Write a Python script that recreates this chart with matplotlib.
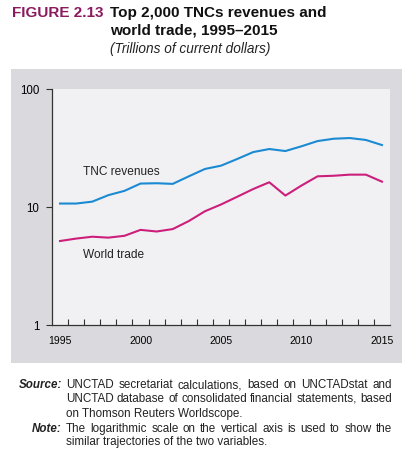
import numpy as np
import matplotlib.pyplot as plt
from matplotlib.patches import Rectangle
from matplotlib.ticker import FixedLocator, NullFormatter

plt.rcParams['font.family'] = ['Liberation Sans', 'DejaVu Sans']

years = list(range(1995, 2016))
tnc_revenues = [10.7, 10.7, 11.1, 12.6, 13.7, 15.8, 15.9, 15.7, 18.2, 21.0, 22.4,
                25.5, 29.2, 31.0, 29.8, 32.7, 36.2, 37.9, 38.4, 37.0, 33.5]
world_trade = [5.15, 5.4, 5.6, 5.5, 5.7, 6.4, 6.2, 6.5, 7.6, 9.2, 10.5,
               12.2, 14.2, 16.2, 12.5, 15.2, 18.2, 18.4, 18.8, 18.8, 16.4]
year_labels = [1995, 2000, 2005, 2010, 2015]

W, H = 411, 460
fig = plt.figure(figsize=(W / 100, H / 100), dpi=100)

def fx(px):
    return px / W

def fy(py):
    return 1 - py / H

# grey panel behind the chart
fig.patches.append(Rectangle((fx(11), fy(364)), fx(402) - fx(11), fy(70) - fy(364),
                             transform=fig.transFigure, facecolor='#d9d9de',
                             edgecolor='none', zorder=-5))

ax = fig.add_axes([fx(52), fy(326), fx(390) - fx(52), fy(90) - fy(326)])
ax.set_zorder(2)
ax.set_facecolor('#f1f1f4')
ax.plot(years, tnc_revenues, color='#1b8ad3', lw=1.5)
ax.plot(years, world_trade, color='#cc1f7b', lw=1.5)
ax.set_yscale('log')
ax.set_ylim(1, 100)
ax.set_xlim(1994.5, 2015.5)

ax.set_yticks([1, 10, 100])
ax.set_yticklabels(['1', '10', '100'])
ax.yaxis.set_minor_formatter(NullFormatter())
ax.yaxis.set_minor_locator(FixedLocator([]))
ax.tick_params(axis='y', which='major', length=4, width=0.8, direction='out',
               labelsize=8.3, pad=5, color='#333333')

ax.set_xticks(year_labels)
ax.set_xticklabels([str(y) for y in year_labels])
ax.xaxis.set_minor_locator(FixedLocator(np.arange(1995.5, 2015.5, 1.0)))
ax.tick_params(axis='x', which='major', length=0, labelsize=7.5, pad=7)
ax.tick_params(axis='x', which='minor', length=4, width=0.8, direction='in',
               color='#333333')

for s in ['top', 'right']:
    ax.spines[s].set_visible(False)
for s in ['left', 'bottom']:
    ax.spines[s].set_linewidth(0.9)
    ax.spines[s].set_color('#333333')

ax.text(1996.44, 20.3, 'TNC revenues', fontsize=8.6, color='#222222', va='center')
ax.text(1996.44, 3.97, 'World trade', fontsize=8.6, color='#222222', va='center')

# title
fig.text(fx(12), fy(13), 'FIGURE 2.13', fontsize=11, fontweight='bold',
         color='#8a1b5e', va='center')
fig.text(fx(110), fy(13), 'Top 2,000 TNCs revenues and', fontsize=11,
         fontweight='bold', color='#111111', va='center')
fig.text(fx(110), fy(31), 'world trade, 1995\u20132015', fontsize=11,
         fontweight='bold', color='#111111', va='center')
fig.text(fx(110), fy(49), '(Trillions of current dollars)', fontsize=9.8,
         style='italic', color='#222222', va='center')

# footer, justified lines
renderer = fig.canvas.get_renderer()
left_px, right_px = 66, 392
fsize = 8.4

def put_line(text, ypx, justify):
    base = fy(ypx + 3.5)
    words = text.split()
    if not justify:
        fig.text(fx(left_px), base, text, fontsize=fsize, color='#222222', va='baseline')
        return
    widths = []
    for w in words:
        t = fig.text(0, 0, w, fontsize=fsize)
        widths.append(t.get_window_extent(renderer).width)
        t.remove()
    gap = (right_px - left_px - sum(widths)) / (len(words) - 1)
    x = left_px
    for w, wd in zip(words, widths):
        fig.text(fx(x), base, w, fontsize=fsize, color='#222222', va='baseline')
        x += wd + gap

fig.text(fx(62), fy(385 + 3.5), 'Source:', fontsize=fsize, fontweight='bold',
         style='italic', color='#222222', va='baseline', ha='right')
put_line('UNCTAD secretariat calculations, based on UNCTADstat and', 385, True)
put_line('UNCTAD database of consolidated financial statements, based', 399, True)
put_line('on Thomson Reuters Worldscope.', 413, False)
fig.text(fx(62), fy(429 + 3.5), 'Note:', fontsize=fsize, fontweight='bold',
         style='italic', color='#222222', va='baseline', ha='right')
put_line('The logarithmic scale on the vertical axis is used to show the', 429, True)
put_line('similar trajectories of the two variables.', 442, False)

fig.savefig('out.png', dpi=100)
